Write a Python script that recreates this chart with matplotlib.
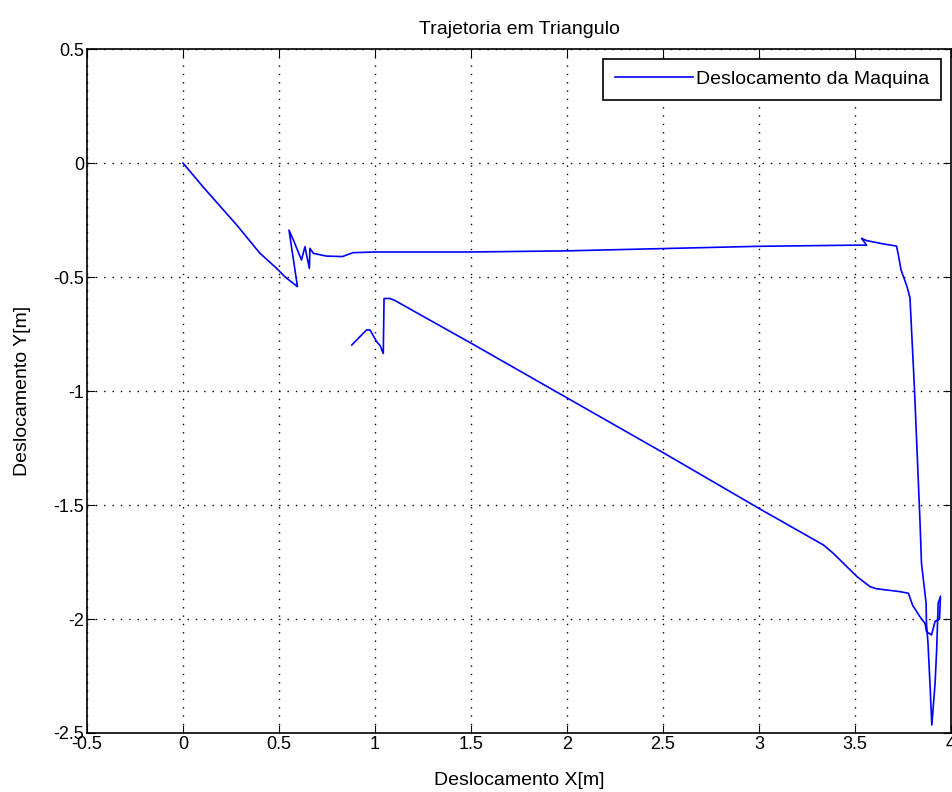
import numpy as np
import matplotlib.pyplot as plt

plt.rcParams['font.family'] = ['Liberation Sans Narrow', 'Liberation Sans', 'DejaVu Sans']

# trajetoria medida da maquina (x, y em metros)
pos_x = [0.0, 0.104, 0.28, 0.40, 0.488, 0.531, 0.596,
         0.552, 0.575, 0.617, 0.635, 0.658, 0.661, 0.679, 0.747, 0.83, 0.885,
         1.0, 1.5, 2.0, 2.5, 3.0, 3.5, 3.56,
         3.534, 3.56, 3.65, 3.716, 3.724, 3.74, 3.77, 3.786,
         3.81, 3.838, 3.846, 3.87, 3.872, 3.88, 3.89, 3.90,
         3.917, 3.925, 3.933, 3.945, 3.94, 3.917, 3.898, 3.872, 3.865, 3.838,
         3.80, 3.778, 3.734, 3.61, 3.578, 3.51, 3.387, 3.335,
         3.0, 2.5, 2.0, 1.5, 1.104, 1.078, 1.047,
         1.043, 1.026, 1.009, 0.974, 0.956, 0.879]
pos_y = [0.0, -0.104, -0.272, -0.395, -0.462, -0.499, -0.542,
         -0.294, -0.338, -0.425, -0.367, -0.462, -0.374, -0.396, -0.408, -0.41, -0.393,
         -0.39, -0.39, -0.385, -0.375, -0.365, -0.36, -0.36,
         -0.33, -0.34, -0.355, -0.364, -0.396, -0.47, -0.54, -0.59,
         -1.0, -1.566, -1.756, -1.93, -2.02, -2.107, -2.28, -2.465,
         -2.28, -2.136, -1.93, -1.90, -2.0, -2.01, -2.07, -2.055, -2.02, -1.99,
         -1.94, -1.887, -1.88, -1.867, -1.858, -1.814, -1.712, -1.675,
         -1.515, -1.27, -1.03, -0.79, -0.603, -0.594, -0.594,
         -0.835, -0.80, -0.784, -0.732, -0.732, -0.798]

fig = plt.figure(figsize=(9.52, 7.92), dpi=100)
ax = fig.add_axes([0.0914, 0.0745, 0.9076, 0.8635])

ax.plot(pos_x, pos_y, color='#0000ff', lw=1.2, label='Deslocamento da Maquina')

ax.set_xlim(-0.5, 4)
ax.set_ylim(-2.5, 0.5)
ax.set_xticks(np.arange(-0.5, 4.01, 0.5))
ax.set_yticks(np.arange(-2.5, 0.51, 0.5))
ax.set_xticklabels(['-0.5', '0', '0.5', '1', '1.5', '2', '2.5', '3', '3.5', '4'])
ax.set_yticklabels(['-2.5', '-2', '-1.5', '-1', '-0.5', '0', '0.5'])
ax.tick_params(direction='in', top=True, right=True, length=6, labelsize=13, pad=2)
ax.grid(True, color='black', linestyle=(0, (1, 5)), linewidth=1.0)
for s in ax.spines.values():
    s.set_linewidth(1.2)

ax.set_title('Trajetoria em Triangulo', fontsize=14, pad=11)
ax.set_xlabel('Deslocamento X[m]', fontsize=14, labelpad=14)
ax.set_ylabel('Deslocamento Y[m]', fontsize=14, labelpad=16)

leg = ax.legend(loc='upper right', fontsize=14, fancybox=False, framealpha=1,
                edgecolor='black', borderaxespad=0.5, handlelength=4.0,
                borderpad=0.6, handletextpad=0.2)
leg.get_frame().set_linewidth(1.2)

fig.savefig('out.png', dpi=100)
